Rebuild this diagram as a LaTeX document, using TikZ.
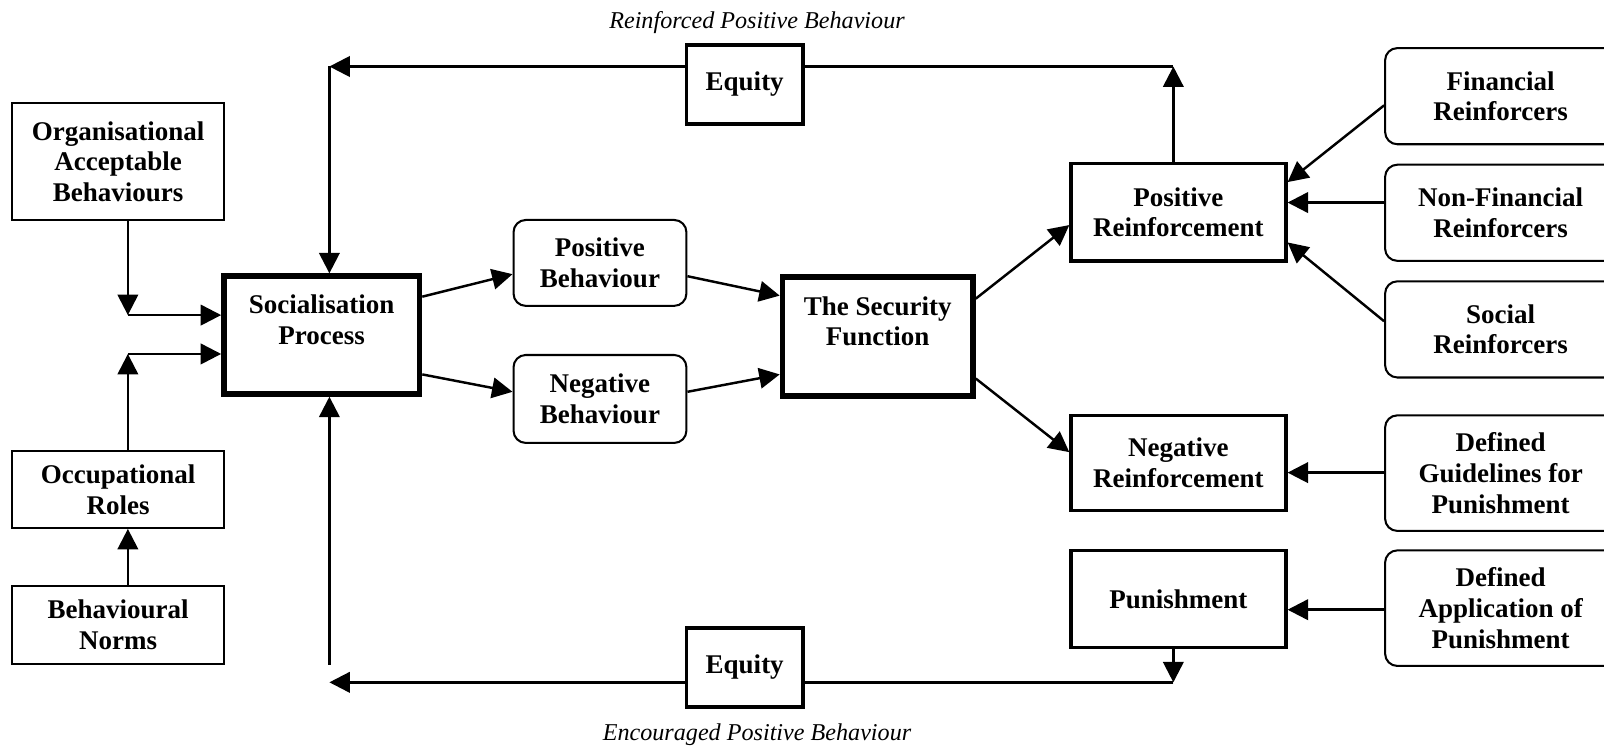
\documentclass[tikz,border=0pt]{standalone}
\usepackage{fontspec}
\setmainfont{Liberation Serif}
\usetikzlibrary{arrows.meta,calc}
\newcommand\liftbox[1]{\raisebox{6pt}[\height][\depth]{\begin{tabular}{@{}c@{}}#1\end{tabular}}}
\begin{document}
\begin{tikzpicture}[x=0.5pt,y=-0.5pt,
  box/.style={draw, line width=1pt, align=center, inner sep=0pt,
    font=\bfseries\fontsize{13.2}{15}\selectfont},
  rbox/.style={box, rounded corners=6pt},
  midbox/.style={box, line width=1.7pt},
  bigbox/.style={box, line width=2.8pt},
  arr/.style={line width=1.2pt, -{Triangle[length=10pt,width=10pt]}},
  ln/.style={line width=1.2pt},
  captxt/.style={font=\itshape\fontsize{11.8}{14}\selectfont}]
\useasboundingbox (0,0) rectangle (1568,735);
\clip (0,0) rectangle (1568,735);

% captions
\node[captxt] (t1) at (740,22) {Reinforced Positive Behaviour};
\node[captxt] (t2) at (740,718) {Encouraged Positive Behaviour};

% left column
\node[box, minimum width=103.5pt, minimum height=57pt] (org) at (115.5,158) {Organisational\\Acceptable\\Behaviours};
\node[box, minimum width=103.5pt, minimum height=37.5pt] (occ) at (115.5,478.5) {Occupational\\Roles};
\node[box, minimum width=103.5pt, minimum height=38pt] (norms) at (115.5,611) {Behavioural\\Norms};

% socialisation
\node[bigbox, minimum width=95.5pt, minimum height=57.5pt] (sp) at (314.5,327.5) {\liftbox{Socialisation\\Process}};

% equity boxes
\node[midbox, minimum width=57pt, minimum height=38.5pt] (eq1) at (728,82.5) {Equity};
\node[midbox, minimum width=57pt, minimum height=38.5pt] (eq2) at (728,652.5) {Equity};

% behaviours
\node[rbox, minimum width=84.5pt, minimum height=42pt] (pb) at (586.5,257) {Positive\\Behaviour};
\node[rbox, minimum width=84.5pt, minimum height=43pt] (nb) at (586.5,390) {Negative\\Behaviour};

% security function
\node[bigbox, minimum width=93pt, minimum height=58pt] (sf) at (858,329) {\liftbox{The Security\\Function}};

% reinforcement
\node[midbox, minimum width=105pt, minimum height=47.5pt] (pr) at (1152,207.5) {Positive\\Reinforcement};
\node[midbox, minimum width=105pt, minimum height=46.5pt] (nr) at (1152,452.5) {Negative\\Reinforcement};
\node[midbox, minimum width=105pt, minimum height=47.5pt] (pun) at (1152,585.5) {Punishment};

% right column
\node[rbox, minimum width=113pt, minimum height=47pt] (fin) at (1467,94) {Financial\\Reinforcers};
\node[rbox, minimum width=113pt, minimum height=47pt] (nfin) at (1467,208) {Non-Financial\\Reinforcers};
\node[rbox, minimum width=113pt, minimum height=47pt] (soc) at (1467,322) {Social\\Reinforcers};
\node[rbox, minimum width=113pt, minimum height=56.5pt] (dg) at (1467,462.5) {Defined\\Guidelines for\\Punishment};
\node[rbox, minimum width=113pt, minimum height=56.5pt] (da) at (1467,594.5) {Defined\\Application of\\Punishment};

% helper coordinates
\coordinate (tl) at (322,65);
\coordinate (tr) at (1147,65);
\coordinate (bl) at (322,667);
\coordinate (br) at (1147,667);
\coordinate (bv) at (322,650);
\coordinate (a1) at (125,308);
\coordinate (a2) at (125,346);

% top loop
\draw[arr] (tr |- pr.north) -- (tr);
\draw[ln] (tr) -- (eq1.east |- tr);
\draw[arr] (eq1.west |- tl) -- (tl);
\draw[arr] (tl) -- (tl |- sp.north);

% bottom loop
\draw[arr] (br |- pun.south) -- (br);
\draw[ln] (br) -- (eq2.east |- br);
\draw[arr] (eq2.west |- bl) -- (bl);
\draw[arr] (bv) -- (bv |- sp.south);

% left inputs
\draw[arr] (a1 |- org.south) -- (a1);
\draw[arr] (a1) -- (a1 -| sp.west);
\draw[arr] (a2 |- occ.north) -- (a2);
\draw[arr] (a2) -- (a2 -| sp.west);
\draw[arr] (a2 |- norms.north) -- (a2 |- occ.south);

% middle flow
\draw[arr] (sp.east |- 0,290) -- (pb.west |- 0,268);
\draw[arr] (sp.east |- 0,366) -- (nb.west |- 0,383);
\draw[arr] (pb.east |- 0,270) -- (sf.west |- 0,289);
\draw[arr] (nb.east |- 0,383) -- (sf.west |- 0,366);
\draw[arr] (sf.east |- 0,292) -- (pr.west |- 0,220);
\draw[arr] (sf.east |- 0,370) -- (nr.west |- 0,442);

% right inputs
\draw[arr] (fin.west |- 0,103) -- (pr.east |- 0,178);
\draw[arr] (nfin.west |- 0,198) -- (pr.east |- 0,198);
\draw[arr] (soc.west |- 0,314) -- (pr.east |- 0,237);
\draw[arr] (dg.west |- 0,462) -- (nr.east |- 0,462);
\draw[arr] (da.west |- 0,596) -- (pun.east |- 0,596);
\end{tikzpicture}
\end{document}
